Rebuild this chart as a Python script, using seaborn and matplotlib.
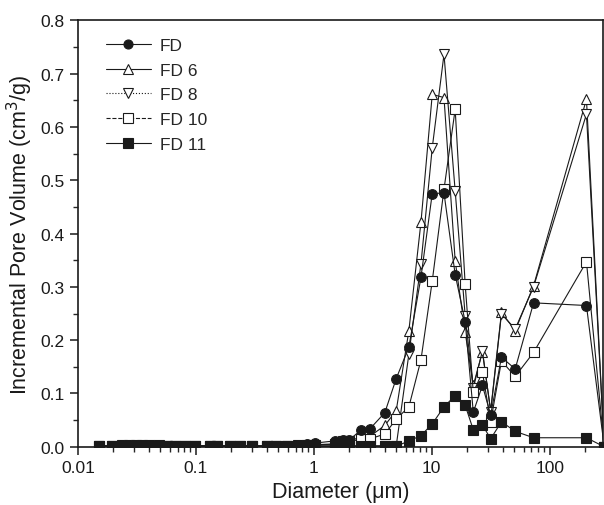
import matplotlib
matplotlib.use("Agg")
import matplotlib.pyplot as plt
from matplotlib.lines import Line2D
from matplotlib.ticker import MultipleLocator, LogLocator, FixedFormatter, FixedLocator, NullFormatter
import seaborn as sns
import pandas as pd
import numpy as np

# pore diameter (um), common grid for all samples
diameter = [0.015, 0.0196, 0.0238, 0.027, 0.031, 0.035, 0.040, 0.0486, 0.057, 0.067,
            0.081, 0.099, 0.132, 0.151, 0.195, 0.237, 0.298, 0.40, 0.48, 0.59,
            0.74, 0.87, 1.02, 1.5, 1.77, 2.0, 2.5, 3.0, 4.0, 5.0,
            6.4, 8.1, 10.1, 12.7, 15.8, 19.2, 22.5, 26.9, 31.6, 39,
            51, 73, 205, 290]

fd = [0.002, 0.002, 0.002, 0.002, 0.003, 0.003, 0.002, 0.002, 0.002, 0.002,
      0.002, 0.002, 0.002, 0.002, 0.002, 0.002, 0.002, 0.002, 0.002, 0.002,
      0.003, 0.005, 0.007, 0.011, 0.013, 0.013, 0.031, 0.034, 0.064, 0.128,
      0.187, 0.318, 0.475, 0.476, 0.323, 0.235, 0.065, 0.115, 0.060, 0.168,
      0.146, 0.270, 0.265, 0.0]
fd6 = [0.001, 0.001, 0.001, 0.001, 0.001, 0.001, 0.001, 0.001, 0.001, 0.001,
       0.001, 0.001, 0.001, 0.001, 0.001, 0.001, 0.001, 0.001, 0.001, 0.001,
       0.002, 0.003, 0.004, 0.005, 0.008, 0.010, 0.019, 0.020, 0.040, 0.068,
       0.218, 0.421, 0.661, 0.655, 0.349, 0.215, 0.115, 0.178, 0.068, 0.252,
       0.218, 0.302, 0.652, 0.0]
fd8 = [0.001, 0.001, 0.001, 0.001, 0.001, 0.001, 0.001, 0.001, 0.001, 0.001,
       0.001, 0.001, 0.001, 0.001, 0.001, 0.001, 0.001, 0.001, 0.001, 0.001,
       0.001, 0.002, 0.002, 0.002, 0.002, 0.002, 0.002, 0.002, 0.002, 0.002,
       0.174, 0.343, 0.561, 0.736, 0.480, 0.246, 0.110, 0.180, 0.066, 0.249,
       0.221, 0.300, 0.624, 0.0]
fd10 = [0.002, 0.002, 0.004, 0.004, 0.004, 0.004, 0.004, 0.004, 0.002, 0.002,
        0.002, 0.002, 0.002, 0.002, 0.002, 0.002, 0.002, 0.002, 0.002, 0.002,
        0.003, 0.004, 0.004, 0.005, 0.010, 0.010, 0.014, 0.015, 0.024, 0.052,
        0.075, 0.163, 0.311, 0.483, 0.633, 0.305, 0.102, 0.140, 0.047, 0.161,
        0.132, 0.177, 0.347, 0.0]
fd11 = [0.001, 0.001, 0.001, 0.001, 0.001, 0.001, 0.001, 0.001, 0.001, 0.001,
        0.001, 0.001, 0.001, 0.001, 0.001, 0.001, 0.001, 0.001, 0.001, 0.001,
        0.001, 0.001, 0.001, 0.001, 0.001, 0.001, 0.001, 0.001, 0.001, 0.001,
        0.011, 0.021, 0.043, 0.075, 0.096, 0.078, 0.032, 0.041, 0.015, 0.047,
        0.029, 0.017, 0.017, 0.0]

labels = ["FD", "FD 6", "FD 8", "FD 10", "FD 11"]
series = [fd, fd6, fd8, fd10, fd11]
markers = ["o", "^", "v", "s", "s"]
facecolors = ["k", "white", "white", "white", "k"]
legend_styles = ["-", "-", ":", "--", "-"]
# filled markers sit on top, as in the original
orders = [5, 3, 3, 3, 4]

sns.set_theme(style="ticks")
plt.rcParams["font.family"] = ["Liberation Sans", "DejaVu Sans"]
plt.rcParams["xtick.direction"] = "out"
plt.rcParams["ytick.direction"] = "out"

fig, ax = plt.subplots(figsize=(6.04, 5.06), dpi=100)
fig.subplots_adjust(left=0.129, right=0.998, bottom=0.115, top=0.958)
ax.set_xscale("log")

for lab, vals, m, fc, z in zip(labels, series, markers, facecolors, orders):
    df = pd.DataFrame({"d": diameter, "v": vals})
    sns.lineplot(data=df, x="d", y="v", ax=ax, color="k", lw=0.8,
                 marker=m, markersize=7, markerfacecolor=fc,
                 markeredgecolor="k", markeredgewidth=0.8, zorder=z)

ax.set_xlim(0.01, 282)
ax.set_ylim(0, 0.8)

ax.xaxis.set_major_locator(FixedLocator([0.01, 0.1, 1, 10, 100]))
ax.xaxis.set_major_formatter(FixedFormatter(["0.01", "0.1", "1", "10", "100"]))
ax.xaxis.set_minor_locator(LogLocator(base=10, subs=np.arange(2, 10)))
ax.xaxis.set_minor_formatter(NullFormatter())
ax.yaxis.set_major_locator(MultipleLocator(0.1))
ax.yaxis.set_minor_locator(MultipleLocator(0.05))
ax.yaxis.set_major_formatter(matplotlib.ticker.FormatStrFormatter("%.1f"))

ax.tick_params(which="major", length=6, width=1.1, labelsize=12.5, colors="k")
ax.tick_params(which="minor", length=3.5, width=1.0)
for s in ax.spines.values():
    s.set_linewidth(1.2)
    s.set_color("k")

ax.set_xlabel("Diameter (\u03bcm)", fontsize=15.5, color="k")
ax.set_ylabel("Incremental Pore Volume (cm$^3$/g)", fontsize=15.5, color="k")

handles = [Line2D([], [], color="k", lw=0.8, ls=ls, marker=m, markersize=6.5,
                  markerfacecolor=fc, markeredgecolor="k", markeredgewidth=0.8)
           for ls, m, fc in zip(legend_styles, markers, facecolors)]
ax.legend(handles, labels, loc="upper left", bbox_to_anchor=(0.04, 0.975),
          frameon=False, fontsize=12.5, handlelength=2.6, handletextpad=0.5,
          labelspacing=0.55, borderaxespad=0)

fig.savefig("out.png", dpi=100)
